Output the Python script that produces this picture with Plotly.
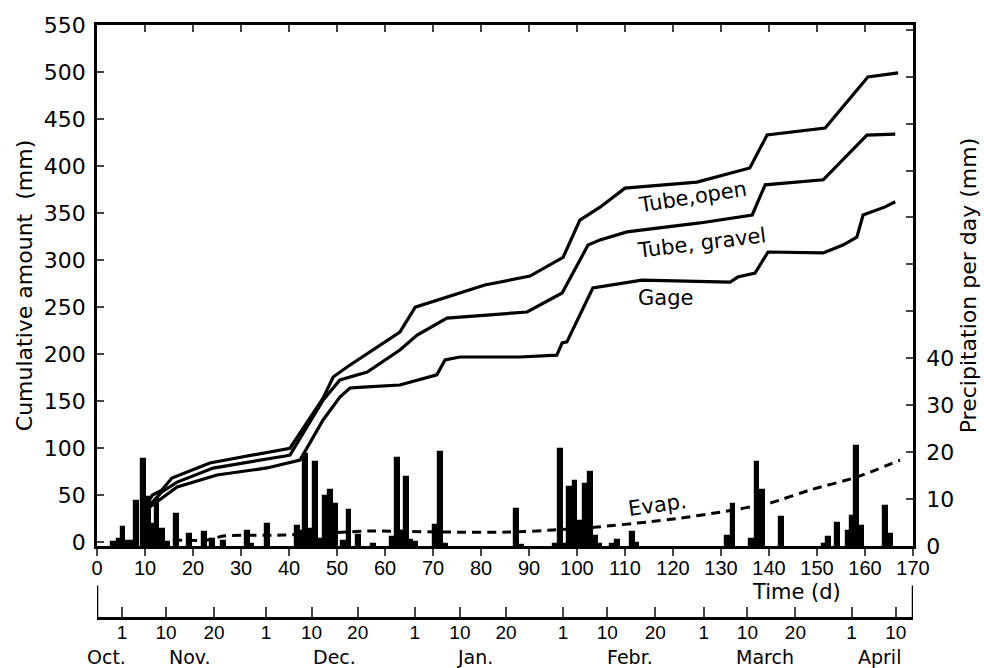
import plotly.graph_objects as go

# ---------------- data ----------------
# daily precipitation (mm/day), right axis
precip_day = [3.5, 4.6, 5.4, 6.5, 7.5, 8.3, 9.7, 10.8, 11.6, 12.5, 13.6, 14.7, 16.5, 19.3, 22.4, 24.1, 26.3,
              31.4, 32.2, 35.5, 41.8, 42.7, 43.5, 44.5, 45.5, 46.6, 47.6, 48.6, 49.7, 51.4, 52.5, 54.4, 57.6,
              61.6, 62.6, 63.6, 64.5, 65.4, 66.3, 70.4, 71.5, 72.6, 87.4, 88.4,
              95.5, 96.6, 97.5, 98.4, 99.6, 100.7, 101.8, 102.8, 103.8, 104.7, 107.4, 108.5, 111.6, 112.5,
              131.3, 132.5, 136.3, 137.5, 138.6, 142.6, 151.6, 152.4, 154.3, 156.5, 157.4, 158.3, 159.2,
              164.3, 165.3]
precip_val = [0.8, 1.5, 4.0, 1.0, 1.0, 9.6, 18.5, 10.5, 4.7, 10.0, 3.6, 0.9, 6.8, 2.6, 2.9, 1.6, 1.0,
              3.2, 0.5, 4.7, 4.3, 3.2, 19.6, 3.6, 17.9, 1.5, 10.6, 11.9, 8.9, 1.0, 7.6, 2.4, 0.4,
              1.9, 18.7, 3.2, 14.8, 1.3, 0.8, 4.5, 20.0, 0.5, 7.9, 0.3,
              0.5, 20.6, 0.5, 12.6, 13.8, 5.3, 13.2, 15.7, 2.1, 0.5, 0.5, 1.3, 3.0, 0.6,
              2.1, 9.0, 1.5, 18.0, 12.0, 6.2, 0.5, 2.0, 5.0, 3.2, 6.4, 21.3, 4.3,
              8.5, 2.6]

# cumulative amounts (mm), left axis
open_day = [10.6, 11.5, 13.5, 15.6, 23.5, 38.8, 40.2, 47.1, 49.2, 52.1, 63.1, 66.3, 80.8, 90.2, 97.1,
            100.6, 104.8, 110.0, 125.0, 136.0, 139.6, 151.7, 160.6, 166.9]
open_val = [41.7, 50.0, 55.5, 68.3, 84.3, 98.0, 100.0, 153.3, 175.7, 186.3, 223.5, 250.0, 273.5, 283.0,
            303.0, 342.5, 356.3, 376.5, 383.0, 398.0, 433.0, 440.5, 494.7, 499.0]

gravel_day = [11.0, 13.5, 16.7, 24.2, 39.2, 40.2, 47.1, 50.6, 56.3, 63.1, 66.7, 72.9, 89.6, 96.9, 102.3,
              104.8, 110.4, 125.6, 136.5, 139.2, 151.3, 160.4, 166.3]
gravel_val = [39.5, 53.4, 64.0, 78.9, 91.7, 92.7, 151.0, 172.5, 181.0, 204.4, 220.3, 238.4, 244.8, 265.0,
              316.0, 321.5, 330.0, 339.5, 348.0, 380.0, 385.4, 433.0, 434.0]

gage_day = [11.0, 16.7, 25.0, 35.4, 42.3, 47.1, 50.6, 52.7, 55.4, 63.1, 70.8, 72.5, 75.6, 88.1, 95.8,
            96.9, 97.9, 103.3, 113.5, 131.9, 133.5, 137.1, 139.8, 151.3, 155.4, 158.3, 159.6, 164.2, 166.3]
gage_val = [37.4, 58.7, 71.5, 79.0, 87.4, 130.0, 154.4, 164.0, 165.0, 167.2, 178.0, 193.8, 197.0, 197.0,
            199.0, 212.0, 213.0, 270.3, 278.8, 276.7, 282.0, 286.3, 308.6, 307.6, 316.0, 324.5, 348.0,
            356.6, 362.0]

evap_day = [15.8, 22.9, 26.3, 38.8, 56.9, 73.5, 86.0, 95.0, 104.2, 114.6, 121.5, 129.8, 140.2, 148.5,
            158.3, 167.3]
evap_val = [2.3, 2.3, 6.6, 7.7, 11.9, 10.8, 10.8, 13.0, 16.2, 21.5, 25.7, 32.0, 41.7, 55.5, 69.3, 87.4]

# axes ticks / labels
time_ticks = list(range(0, 171, 10))
left_ticks = list(range(0, 551, 50))
right_ticks = list(range(0, 111, 10))
right_labels = ["0", "10", "20", "30", "40"] + [""] * 7
date_ticks = [5.2, 14.4, 24.4, 35.2, 44.7, 54.3, 66.2, 75.6, 85.2, 97.1, 106.3, 116.3, 126.4, 135.5,
              145.5, 157.2, 166.4]
date_labels = ["1", "10", "20", "1", "10", "20", "1", "10", "20", "1", "10", "20", "1", "10", "20",
               "1", "10"]
month_names = ["Oct.", "Nov.", "Dec.", "Jan.", "Febr.", "March", "April"]
month_pos = [1.9, 19.3, 49.5, 78.7, 111.0, 139.2, 163.0]

# curve labels: text, x (day), y (mm), angle
curve_labels = ["Tube,open", "Tube, gravel", "Gage", "Evap."]
curve_label_x = [124.0, 126.0, 118.5, 116.7]
curve_label_y = [367.0, 318.0, 260.0, 39.6]
curve_label_angle = [-9, -7, 0, -8]

# ---------------- figure ----------------
FONT = "DejaVu Sans"
NARROW = "Liberation Sans"
BLACK = "black"

fig = go.Figure()

fig.add_trace(go.Bar(x=precip_day, y=precip_val, width=1.0,
                     marker=dict(color=BLACK, line=dict(width=1.2, color=BLACK)),
                     yaxis="y2", xaxis="x", showlegend=False))

for xs, ys in [(open_day, open_val), (gravel_day, gravel_val), (gage_day, gage_val)]:
    fig.add_trace(go.Scatter(x=xs, y=ys, mode="lines", line=dict(color=BLACK, width=3.2),
                             showlegend=False, yaxis="y", xaxis="x"))

fig.add_trace(go.Scatter(x=evap_day, y=evap_val, mode="lines", line=dict(color=BLACK, width=3, dash="9px,6px",
                         shape="spline", smoothing=0.6), showlegend=False, yaxis="y", xaxis="x"))

# invisible traces so the auxiliary axes render
fig.add_trace(go.Scatter(x=[0], y=[0], mode="markers", marker=dict(opacity=0), xaxis="x2", yaxis="y",
                         showlegend=False, hoverinfo="skip"))
fig.add_trace(go.Scatter(x=[0], y=[0], mode="markers", marker=dict(opacity=0), xaxis="x3", yaxis="y",
                         showlegend=False, hoverinfo="skip"))

YDOM = 0.1214

fig.update_layout(
    width=984, height=668,
    margin=dict(l=97, r=71, t=25, b=50, autoexpand=False),
    paper_bgcolor="white", plot_bgcolor="white",
    font=dict(family=FONT, color=BLACK, size=20),
    bargap=0,
    xaxis=dict(range=[0, 170], tickvals=time_ticks, ticks="outside", ticklen=7, tickwidth=2,
               showline=True, linewidth=2.5, linecolor=BLACK, showgrid=False, zeroline=False,
               tickfont=dict(family=NARROW, size=20), anchor="y", ticklabelstandoff=-5, automargin=False),
    xaxis3=dict(range=[0, 170], tickvals=time_ticks, ticks="inside", ticklen=7, tickwidth=2,
                showline=True, linewidth=2.5, linecolor=BLACK, showgrid=False, zeroline=False,
                showticklabels=False, overlaying="x", side="top", anchor="y", automargin=False),
    xaxis2=dict(range=[0, 170], tickvals=date_ticks, ticktext=date_labels, ticks="inside", ticklen=10,
                tickwidth=2, showline=True, linewidth=2.5, linecolor=BLACK, showgrid=False, zeroline=False,
                tickfont=dict(family=NARROW, size=19), overlaying="x", anchor="free", position=0,
                side="bottom", ticklabelstandoff=-4, automargin=False),
    yaxis=dict(range=[-4, 550], domain=[YDOM, 1], tickvals=left_ticks, ticks="inside", ticklen=7, tickwidth=2,
               showline=True, linewidth=2.5, linecolor=BLACK, showgrid=False, zeroline=False,
               tickfont=dict(size=22), ticklabelstandoff=4, automargin=False,
               title=dict(text="Cumulative amount  (mm)", font=dict(size=22), standoff=6)),
    yaxis2=dict(range=[0, 111], domain=[YDOM, 1], tickvals=right_ticks, ticktext=right_labels,
                ticks="inside", ticklen=7, tickwidth=2, showline=True, linewidth=2.5, linecolor=BLACK,
                showgrid=False, zeroline=False, overlaying="y", side="right", anchor="x",
                tickfont=dict(size=22), ticklabelstandoff=6, automargin=False,
                title=dict(text="Precipitation per day (mm)", font=dict(size=22), standoff=8)),
)

# bracket ends of the calendar axis
for xv in [0, 170]:
    fig.add_shape(type="line", xref="x", yref="paper", x0=xv, x1=xv, y0=0, y1=0.055,
                  line=dict(color=BLACK, width=2.5))

# month names
for name, pos in zip(month_names, month_pos):
    fig.add_annotation(x=pos, y=-0.066, xref="x", yref="paper", text=name, showarrow=False,
                       font=dict(family=FONT, size=19), yanchor="middle")

fig.add_annotation(x=145.8, y=0.0438, xref="x", yref="paper", text="Time (d)", showarrow=False,
                   font=dict(family=FONT, size=21), yanchor="middle")

for t, xv, yv, ang in zip(curve_labels, curve_label_x, curve_label_y, curve_label_angle):
    fig.add_annotation(x=xv, y=yv, xref="x", yref="y", text=t, showarrow=False, textangle=ang,
                       font=dict(family=FONT, size=21))

fig.write_html("out.html", config={"displayModeBar": False},
               post_script="document.body.style.margin='0';document.body.style.overflow='hidden';")
